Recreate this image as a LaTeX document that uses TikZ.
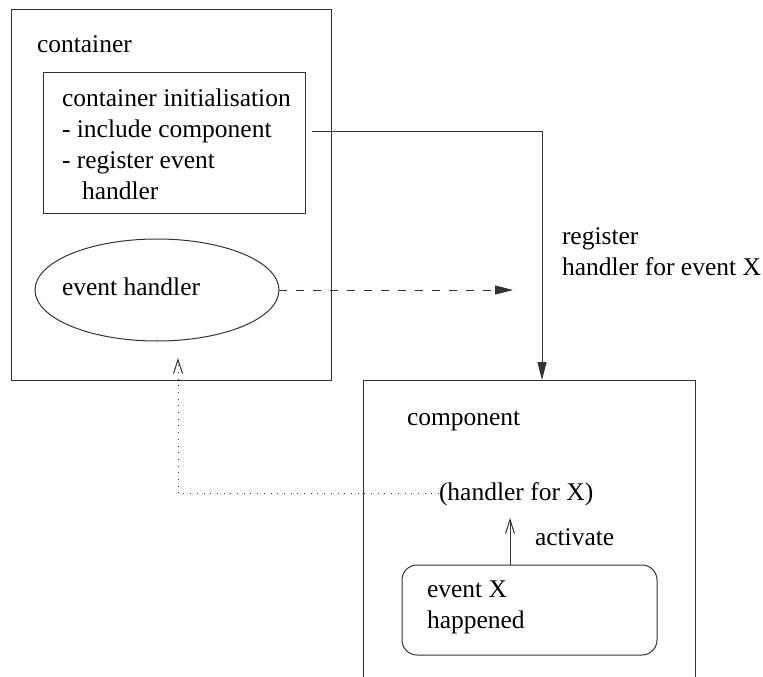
\documentclass[tikz,border=0pt]{standalone}
\usepackage{fontspec}
\setmainfont{Liberation Serif}
\usetikzlibrary{arrows.meta,shapes.geometric}
\begin{document}
\begin{tikzpicture}[x=1pt,y=-1pt,
  every node/.style={inner sep=0pt,outer sep=0pt},
  ln/.style={line width=1pt,draw=black!80},
  lbl/.style={anchor=base west,align=left,font=\fontsize{25.5}{31}\selectfont},
  boxnode/.style={ln,draw,rectangle},
  filledtip/.style={-{Triangle[length=18pt,width=9pt]}},
  opentip/.style={-{Straight Barb[length=14pt,width=9pt]}},
]
\useasboundingbox (0,0) rectangle (763,677);
% container
\node[boxnode,minimum width=320pt,minimum height=370pt] (containerbox) at (171,195) {};
\node[lbl] (containerlabel) at (37,53) {container};
\node[boxnode,minimum width=262pt,minimum height=140pt] (init) at (174,143) {};
% base anchor of a multi-line node = baseline of its last line
\node[lbl] (inittext) at (62,199) {container initialisation\\- include component\\- register event\\\hspace*{20pt}handler};
\node[ln,draw,ellipse,minimum width=244pt,minimum height=102pt] (handler) at (157,290) {};
\node[lbl] (handlertext) at (62,295) {event handler};
% component
\node[minimum width=332pt,minimum height=297pt] (component) at (529,528.5) {};
\draw[ln] (component.south west) |- (component.north east) -- (component.south east);
\node[lbl] (componentlabel) at (407,425) {component};
\node[lbl] (hfx) at (439,500) {(handler for X)};
\node[ln,draw,rectangle,rounded corners=15pt,minimum width=255pt,minimum height=90pt] (eventbox) at (529.5,610) {};
\node[lbl] (eventtext) at (427,628) {event X\\happened};
\node[lbl] (activate) at (535,545) {activate};
\node[lbl] (register) at (562,275) {register\\handler for event X};
% connectors
\coordinate (regstart) at (312,131);
\coordinate (regend) at (542,380);
\draw[ln,filledtip] (regstart) -| (regend);
\coordinate (dashend) at (513,290);
\draw[ln,filledtip,dash pattern=on 8pt off 9pt] (handler.east) -- (dashend);
\coordinate (notifyend) at (178,358);
\draw[ln,opentip,dash pattern=on 1pt off 5.7pt] (hfx.west) -| (notifyend);
\coordinate (acttip) at (510,518);
\draw[ln,opentip] (eventbox.north -| acttip) -- (acttip);
\end{tikzpicture}
\end{document}
